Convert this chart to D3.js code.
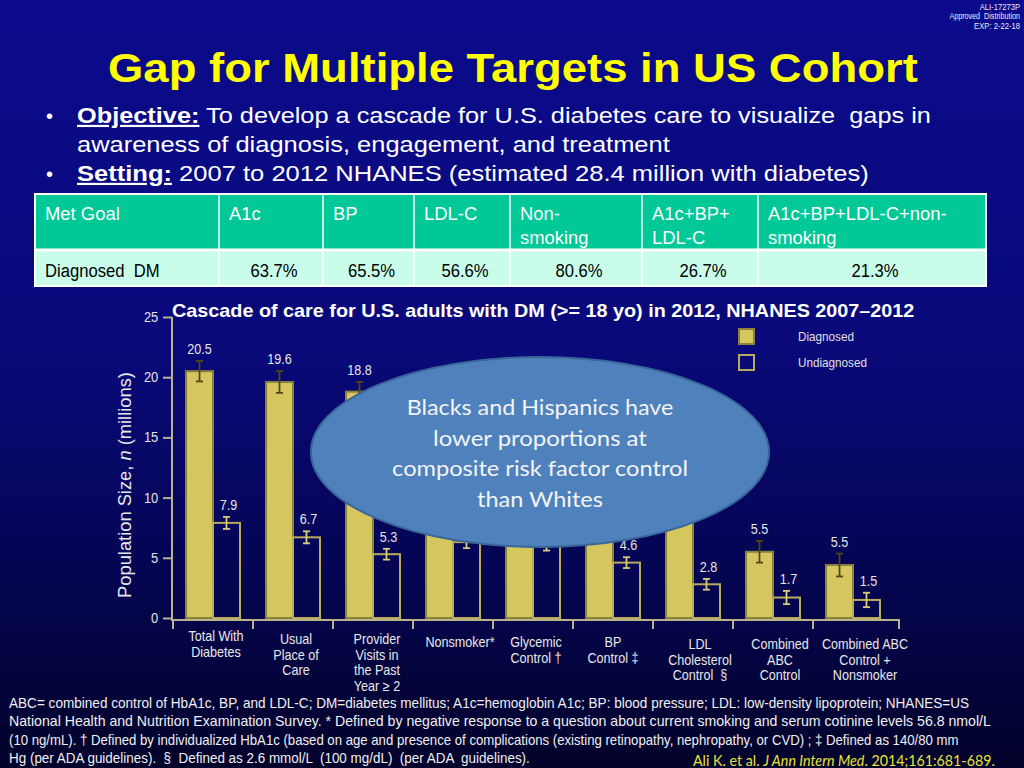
<!DOCTYPE html>
<html><head><meta charset="utf-8">
<script src="https://cdn.jsdelivr.net/npm/d3@7"></script>
<style>html,body{margin:0;padding:0;background:#000;}svg{display:block} text{white-space:pre}</style>
</head><body>
<svg id="c" width="1024" height="768"></svg>
<script>
// ---------- data ----------
const categories = ["Total With\nDiabetes","Usual\nPlace of\nCare","Provider\nVisits in\nthe Past\nYear ≥ 2","Nonsmoker*","Glycemic\nControl †","BP\nControl ‡","LDL\nCholesterol\nControl  §","Combined\nABC\nControl","Combined ABC\nControl +\nNonsmoker"];
const seriesNames = ["Diagnosed","Undiagnosed"];
const diagnosed   = [20.5, 19.6, 18.8, 16.5, 13.1, 13.4, 11.6, 5.5, 4.4];
const undiagnosed = [7.9, 6.7, 5.3, 6.3, 6.1, 4.6, 2.8, 1.7, 1.5];
// labels hidden behind the callout in the reference are left empty
const diagnosedLabels   = ["20.5","19.6","18.8","","","","","5.5","5.5"];
const undiagnosedLabels = ["7.9","6.7","5.3","","","4.6","2.8","1.7","1.5"];
const diagnosedErr   = [0.85, 0.9, 0.8, 0.8, 0.8, 0.8, 0.8, 0.9, 0.95];
const undiagnosedErr = [0.5, 0.5, 0.45, 0.5, 0.5, 0.45, 0.45, 0.55, 0.6];
const yTicks = [0, 5, 10, 15, 20, 25];
const tableHeader = ["Met Goal","A1c","BP","LDL-C","Non-\nsmoking","A1c+BP+\nLDL-C","A1c+BP+LDL-C+non-\nsmoking"];
const tableRow = ["Diagnosed  DM","63.7%","65.5%","56.6%","80.6%","26.7%","21.3%"];

// ---------- layout ----------
const W = 1024, H = 768;
const AR = "'Liberation Sans', Arial, sans-serif";
const CAL = "Lato, 'Open Sans', sans-serif";
const svg = d3.select("#c");
const defs = svg.append("defs");
const grad = defs.append("linearGradient").attr("id","bg").attr("x1",0).attr("y1",0).attr("x2",0).attr("y2",1);
[[0,"#0b0b8c"],[0.45,"#09097a"],[0.75,"#050552"],[1,"#02022a"]].forEach(s=>grad.append("stop").attr("offset",s[0]).attr("stop-color",s[1]));
svg.append("rect").attr("width",W).attr("height",H).attr("fill","url(#bg)");

function T(parent, x, y, parts, o) {
  const g = parent.append("g");
  const t = g.append("text").attr("text-anchor", o.anchor || "start")
    .style("font-family", o.family || AR).style("font-size", o.size + "px")
    .style("font-weight", o.weight || "normal").attr("fill", o.fill || "#fff");
  (Array.isArray(parts) ? parts : [{t: parts}]).forEach(p => {
    const ts = t.append("tspan").text(p.t);
    if (p.b) ts.style("font-weight", "bold");
    if (p.u) ts.style("text-decoration", "underline");
    if (p.i) ts.style("font-style", "italic");
  });
  let sx = o.sx || 1;
  if (o.w) sx = o.w / t.node().getComputedTextLength();
  g.attr("transform", `translate(${x},${y})` + (o.rot ? ` rotate(${o.rot})` : "") + ` scale(${sx},1)`);
  return g;
}

// top-right
T(svg, 1020, 10, "ALI-17273P", {size: 9, anchor: "end", sx: 0.85, fill: "#e8e8f0"});
T(svg, 1020, 19, "Approved  Distribution", {size: 9, anchor: "end", sx: 0.8, fill: "#e8e8f0"});
T(svg, 1020, 29, "EXP: 2-22-18", {size: 9, anchor: "end", sx: 0.85, fill: "#e8e8f0"});

// title
T(svg, 108, 82, "Gap for Multiple Targets in US Cohort", {size: 41, weight: "bold", fill: "#ffff00", w: 810});

// bullets
T(svg, 46, 123, "•", {size: 20});
T(svg, 46, 181, "•", {size: 20});
T(svg, 77, 123, [{t: "Objective:", b: 1, u: 1}, {t: " To develop a cascade for U.S. diabetes care to visualize  gaps in"}], {size: 22, w: 854});
T(svg, 77, 152, "awareness of diagnosis, engagement, and treatment", {size: 22, w: 593});
T(svg, 77, 181, [{t: "Setting:", b: 1, u: 1}, {t: " 2007 to 2012 NHANES (estimated 28.4 million with diabetes)"}], {size: 22, w: 792});

// table
const colEdges = [35, 219, 323, 414, 510, 642, 758, 986];
const rowTop = 194, rowMid = 250, rowBot = 286;
const tbl = svg.append("g");
tbl.append("rect").attr("x", colEdges[0]).attr("y", rowTop).attr("width", colEdges[7]-colEdges[0]).attr("height", rowMid-rowTop).attr("fill", "#00c896");
tbl.append("rect").attr("x", colEdges[0]).attr("y", rowMid).attr("width", colEdges[7]-colEdges[0]).attr("height", rowBot-rowMid).attr("fill", "#c9fdea");
tbl.append("rect").attr("x", colEdges[0]).attr("y", rowTop).attr("width", colEdges[7]-colEdges[0]).attr("height", rowBot-rowTop).attr("fill", "none").attr("stroke", "#ffffff").attr("stroke-width", 2);
tbl.append("line").attr("x1", colEdges[0]).attr("x2", colEdges[7]).attr("y1", rowMid).attr("y2", rowMid).attr("stroke", "#fff").attr("stroke-width", 3);
colEdges.slice(1, 7).forEach(x => tbl.append("line").attr("x1", x).attr("x2", x).attr("y1", rowTop).attr("y2", rowBot).attr("stroke", "#fff").attr("stroke-width", 1.5));
tableHeader.forEach((h, i) => {
  h.split("\n").forEach((ln, j) => T(tbl, colEdges[i] + 10, 220 + j * 24, ln, {size: 19, sx: 0.97}));
});
tableRow.forEach((v, i) => {
  if (i === 0) T(tbl, colEdges[0] + 10, 277, v, {size: 18.5, fill: "#000", sx: 0.9});
  else T(tbl, (colEdges[i] + colEdges[i+1]) / 2 + 3, 277, v, {size: 18.5, fill: "#000", anchor: "middle", sx: 0.9});
});

// chart
const y = d3.scaleLinear().domain([0, 25]).range([618, 317]);
const x = d3.scaleBand().domain(categories).range([173, 893]).paddingInner(0).paddingOuter(0);
const xs = d3.scaleBand().domain(seriesNames).range([13, 67]);
const chart = svg.append("g");
const AX = "#b9b28c";

T(chart, 172, 317, "Cascade of care for U.S. adults with DM (>= 18 yo) in 2012, NHANES 2007–2012", {size: 19, weight: "bold", w: 743});

const yAxis = chart.append("g").attr("transform", "translate(172,0)")
  .call(d3.axisLeft(y).tickValues(yTicks).tickSize(9).tickSizeOuter(0).tickPadding(6));
yAxis.select(".domain").attr("stroke", AX).attr("stroke-width", 2).attr("d", `M0,${y(25)}V621`);
yAxis.selectAll(".tick line").attr("stroke", AX).attr("stroke-width", 2);
yAxis.selectAll(".tick text").attr("fill", "#e4e4e4").style("font-family", AR).style("font-size", "14px").attr("transform", "scale(0.92,1)");

// x axis
const xAxisG = chart.append("g");
xAxisG.append("line").attr("x1", 171).attr("x2", 900).attr("y1", 620).attr("y2", 620).attr("stroke", AX).attr("stroke-width", 2);
const tickXs = categories.map(c => x(c)).concat([899]);
xAxisG.selectAll("line.t").data(tickXs).join("line").attr("class", "t")
  .attr("x1", d => d).attr("x2", d => d).attr("y1", 620).attr("y2", 629).attr("stroke", AX).attr("stroke-width", 2);

// bars
const groups = chart.selectAll("g.grp").data(categories).join("g").attr("class", "grp").attr("transform", d => `translate(${x(d)},0)`);
const barData = (i) => [
  {s: "Diagnosed", v: diagnosed[i], e: diagnosedErr[i], lab: diagnosedLabels[i]},
  {s: "Undiagnosed", v: undiagnosed[i], e: undiagnosedErr[i], lab: undiagnosedLabels[i]}
];
groups.each(function(c, i) {
  const g = d3.select(this);
  barData(i).forEach(b => {
    const bx = xs(b.s), bw = xs.bandwidth();
    const isD = b.s === "Diagnosed";
    g.append("rect").attr("x", bx).attr("y", y(b.v)).attr("width", bw).attr("height", y(0) - y(b.v))
      .attr("fill", isD ? "#d6c65e" : "none").attr("stroke", isD ? "#8a8040" : "#b8aa58").attr("stroke-width", 2);
    const cx = bx + bw / 2, ec = isD ? "#4e4818" : "#d9cc78";
    g.append("line").attr("x1", cx).attr("x2", cx).attr("y1", y(b.v + b.e)).attr("y2", y(b.v - b.e)).attr("stroke", ec).attr("stroke-width", 1.8);
    [b.v + b.e, b.v - b.e].forEach(v => g.append("line").attr("x1", cx - 3.5).attr("x2", cx + 3.5).attr("y1", y(v)).attr("y2", y(v)).attr("stroke", ec).attr("stroke-width", 1.8));
    if (b.lab) T(g, cx + (isD ? 0 : 2), y(b.v + b.e) - 7, b.lab, {size: 14, anchor: "middle", fill: "#e6e6e6", sx: 0.9});
  });
});

// x labels
const labelNudge = [[3, 641], [3, 644], [4, 644], [7, 647], [3, 647], [0, 647], [7, 649], [7, 649], [12, 649]];
categories.forEach((c, i) => {
  c.split("\n").forEach((ln, j) => T(chart, x(c) + x.bandwidth() / 2 + labelNudge[i][0], labelNudge[i][1] + j * 15.5, ln, {size: 14, anchor: "middle", fill: "#e8e8e8", sx: 0.9}));
});

// y label
T(chart, 131, 485, [{t: "Population Size, "}, {t: "n", i: 1}, {t: " (millions)"}], {size: 18, anchor: "middle", rot: -90, fill: "#e8e8e8", w: 226});

// legend
const leg = chart.append("g");
seriesNames.forEach((s, i) => {
  const ly = 329 + i * 26;
  leg.append("rect").attr("x", 739).attr("y", ly).attr("width", 15).attr("height", 15)
    .attr("fill", i === 0 ? "#d6c65e" : "none").attr("stroke", i === 0 ? "#8a8040" : "#b8aa58").attr("stroke-width", 2);
  T(leg, 798, ly + 12, s, {size: 13, fill: "#e0e0e0", sx: 0.9});
});

// ellipse callout
svg.append("ellipse").attr("cx", 540).attr("cy", 452).attr("rx", 229).attr("ry", 95)
  .attr("fill", "#4f81bd").attr("stroke", "#3a6699").attr("stroke-width", 2);
const calloutLines = [["Blacks and Hispanics have", 267], ["lower proportions at", 214], ["composite risk factor control", 296], ["than Whites", 126]];
calloutLines.forEach((l, i) => T(svg, 540, 415 + i * 30.5, l[0], {size: 22, family: CAL, anchor: "middle", fill: "#f4f4f4", w: l[1]}));

// footnotes
const foot = [
  ["ABC= combined control of HbA1c, BP, and LDL-C; DM=diabetes mellitus; A1c=hemoglobin A1c; BP: blood pressure; LDL: low-density lipoprotein; NHANES=US", 961],
  ["National Health and Nutrition Examination Survey. * Defined by negative response to a question about current smoking and serum cotinine levels 56.8 nmol/L", 983],
  ["(10 ng/mL). † Defined by individualized HbA1c (based on age and presence of complications (existing retinopathy, nephropathy, or CVD) ; ‡ Defined as 140/80 mm", 951],
  ["Hg (per ADA guidelines).  §  Defined as 2.6 mmol/L  (100 mg/dL)  (per ADA  guidelines).", 521]
];
foot.forEach((f, i) => T(svg, 9, 708 + i * 18.3, f[0], {size: 14, fill: "#f0f0f0", w: f[1]}));
T(svg, 693, 766, [{t: "Ali K. et al. "}, {t: "J Ann Intern Med", i: 1}, {t: ". 2014;161:681-689."}], {size: 15, family: CAL, fill: "#e6e23a", w: 302});
</script>
</body></html>
